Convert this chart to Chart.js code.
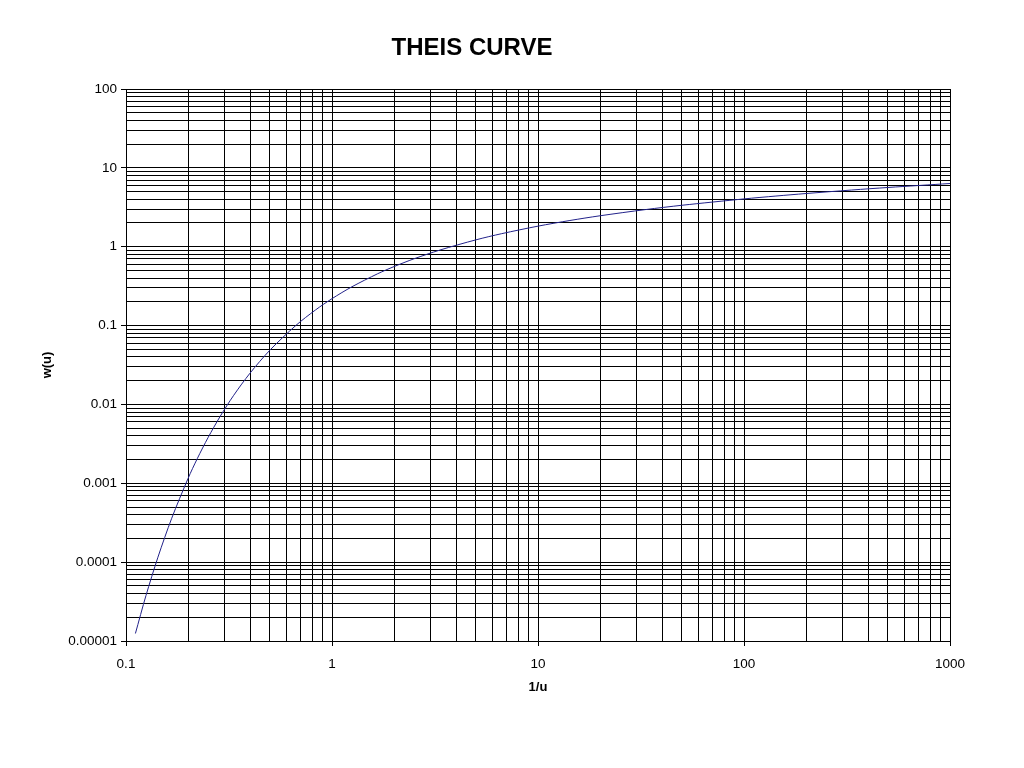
<!DOCTYPE html>
<html>
<head>
<meta charset="utf-8">
<script src="https://cdn.jsdelivr.net/npm/chart.js@4"></script>
<style>
  html, body { margin: 0; padding: 0; background: #fff; }
  #wrap { width: 1024px; height: 768px; }
</style>
</head>
<body>
<div id="wrap"><canvas id="c" width="1024" height="768"></canvas></div>
<script>
// ---- data ----
const chartTitle = 'THEIS CURVE';
const xAxisTitle = '1/u';
const yAxisTitle = 'w(u)';
const invU = [0.1111, 0.125, 0.1429, 0.1667, 0.2, 0.2222, 0.25, 0.2857, 0.3333, 0.4, 0.5, 0.6667, 0.8333, 1, 1.25, 1.6667, 2, 2.5, 3.333, 5, 6.667, 10, 14.29, 20, 33.33, 50, 100, 142.9, 200, 333.3, 500, 1000];
const wU = [1.245e-5, 3.767e-5, 1.155e-4, 3.601e-4, 1.148e-3, 2.073e-3, 3.779e-3, 6.970e-3, 1.305e-2, 2.492e-2, 4.890e-2, 0.1000, 0.1584, 0.2194, 0.3106, 0.4544, 0.5598, 0.7024, 0.9057, 1.2227, 1.4645, 1.8229, 2.1508, 2.4679, 2.9591, 3.3547, 4.0379, 4.3916, 4.7261, 5.2349, 5.6394, 6.3315];
const xTickValues = [0.1, 1, 10, 100, 1000];
const xTickLabels = ['0.1', '1', '10', '100', '1000'];
const yTickValues = [0.00001, 0.0001, 0.001, 0.01, 0.1, 1, 10, 100];
const yTickLabels = ['0.00001', '0.0001', '0.001', '0.01', '0.1', '1', '10', '100'];

const FONT = "'Liberation Sans', Arial, sans-serif";

function decadeTicks(min, max) {
  const out = [];
  const e0 = Math.round(Math.log10(min)), e1 = Math.round(Math.log10(max));
  for (let e = e0; e < e1; e++) {
    for (let m = 1; m <= 9; m++) {
      out.push({ value: parseFloat((m * Math.pow(10, e)).toPrecision(6)), major: m === 1 });
    }
  }
  out.push({ value: max, major: true });
  return out;
}
function labelFor(values, labels, v) {
  for (let i = 0; i < values.length; i++) {
    if (Math.abs(Math.log10(values[i]) - Math.log10(v)) < 1e-6) return labels[i];
  }
  return '';
}

const textPlugin = {
  id: 'texts',
  afterDraw(chart) {
    const ctx = chart.ctx;
    ctx.save();
    ctx.fillStyle = '#000';
    ctx.textAlign = 'center';
    ctx.textBaseline = 'middle';
    ctx.font = 'bold 24px ' + FONT;
    ctx.fillText(chartTitle, 472, 48);
    ctx.font = 'bold 13px ' + FONT;
    ctx.fillText(xAxisTitle, 538, 687);
    ctx.translate(47, 365);
    ctx.rotate(-Math.PI / 2);
    ctx.fillText(yAxisTitle, 0, 0);
    ctx.restore();
  }
};

new Chart(document.getElementById('c'), {
  type: 'line',
  data: {
    datasets: [{
      data: invU.map((x, i) => ({ x: x, y: wU[i] })),
      borderColor: '#22228a',
      borderWidth: 1,
      pointRadius: 0,
      tension: 0.3,
      fill: false
    }]
  },
  options: {
    responsive: false,
    animation: false,
    layout: { padding: { top: 89, right: 74, left: 0, bottom: 0 } },
    plugins: { legend: { display: false }, title: { display: false }, tooltip: { enabled: false } },
    scales: {
      x: {
        type: 'logarithmic',
        min: 0.1, max: 1000,
        afterBuildTicks(scale) { scale.ticks = decadeTicks(0.1, 1000); },
        afterFit(scale) { scale.height = 127; },
        grid: {
          color: '#000',
          lineWidth: 1,
          tickLength: 5,
          tickColor: (c) => (c.tick && c.tick.major) ? '#000' : 'rgba(0,0,0,0)'
        },
        border: { color: '#000', width: 1 },
        ticks: {
          autoSkip: false,
          maxRotation: 0,
          padding: 10,
          color: '#000',
          font: { family: FONT, size: 13.5 },
          callback: (v) => labelFor(xTickValues, xTickLabels, v)
        }
      },
      y: {
        type: 'logarithmic',
        min: 0.00001, max: 100,
        afterBuildTicks(scale) { scale.ticks = decadeTicks(0.00001, 100); },
        afterFit(scale) { scale.width = 126; },
        grid: {
          color: '#000',
          lineWidth: 1,
          tickLength: 5,
          tickColor: (c) => (c.tick && c.tick.major) ? '#000' : 'rgba(0,0,0,0)'
        },
        border: { color: '#000', width: 1 },
        ticks: {
          autoSkip: false,
          padding: 4,
          color: '#000',
          font: { family: FONT, size: 13.5 },
          callback: (v) => labelFor(yTickValues, yTickLabels, v)
        }
      }
    }
  },
  plugins: [textPlugin]
});
</script>
</body>
</html>
